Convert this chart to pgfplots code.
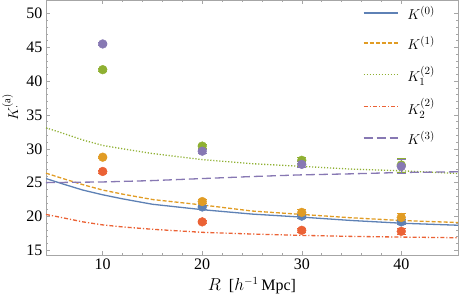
\documentclass[border=0pt]{standalone}
\usepackage{fontspec}
\setmainfont{Liberation Serif}
\usepackage{pgfplots}
\pgfplotsset{compat=1.18}
\definecolor{mblue}{HTML}{5E81B5}
\definecolor{morange}{HTML}{E19C24}
\definecolor{mgreen}{HTML}{8FB032}
\definecolor{mred}{HTML}{EB6235}
\definecolor{mpurple}{HTML}{8778B3}
\begin{document}
\begin{tikzpicture}
\begin{axis}[
  scale only axis, width=412pt, height=255pt,
  xmin=4.3, xmax=45.7, ymin=14.3, ymax=52,
  xtick={10,20,30,40}, ytick={15,20,25,30,35,40,45,50},
  minor x tick num=4, minor y tick num=4,
  tick align=inside,
  major tick length=4pt, minor tick length=2pt,
  axis line style={gray!70}, every tick/.style={gray!70, line width=0.5pt},
  tick label style={font=\fontsize{16}{18}\selectfont, black},
  /pgf/number format/assume math mode=true,
  xlabel={$R$\ \ [$h^{-1}\,$Mpc]},
  xlabel style={font=\fontsize{16}{18}\selectfont, yshift=-1pt},
  ylabel={$K^{(\mathrm{a})}_{\cdot}$},
  ylabel style={font=\fontsize{15}{17}\selectfont, at={(ticklabel cs:0.58)}},
  legend style={at={(rel axis cs:1,1)}, anchor=north east, xshift=-18pt, yshift=-2pt,
    draw=none, fill=none, font=\fontsize{15}{17}\selectfont, row sep=11pt, cells={anchor=west},
    /tikz/every odd column/.append style={column sep=7pt}},
  clip=true,
]
\addlegendimage{mblue, legend image code/.code={\draw[mblue, line width=1.4pt] (0pt,0.5pt) -- (34pt,0.5pt);}}
\addlegendentry{$K^{(0)}$}
\addlegendimage{morange, legend image code/.code={\draw[morange, line width=1.4pt, dash pattern=on 4pt off 2pt] (0pt,0.5pt) -- (34pt,0.5pt);}}
\addlegendentry{$K^{(1)}$}
\addlegendimage{mgreen, legend image code/.code={\draw[mgreen, line width=1.4pt, dash pattern=on 1.2pt off 1.8pt] (0pt,0.5pt) -- (34pt,0.5pt);}}
\addlegendentry{$K^{(2)}_1$}
\addlegendimage{mred, legend image code/.code={\draw[mred, line width=1.4pt, dash pattern=on 4pt off 2pt on 1.2pt off 2pt] (0pt,0.5pt) -- (34pt,0.5pt);}}
\addlegendentry{$K^{(2)}_2$}
\addlegendimage{mpurple, legend image code/.code={\draw[mpurple, line width=1.4pt, dash pattern=on 9pt off 4pt] (0pt,0.5pt) -- (34pt,0.5pt);}}
\addlegendentry{$K^{(3)}$}
% theory curves
\addplot[mblue, line width=1.3pt, forget plot] coordinates {(4.3,25.6) (6,24.8) (8,23.9) (10,23.2) (12,22.6) (15,21.8) (20,21.0) (25,20.35) (30,19.9) (35,19.4) (40,19.0) (45.7,18.7)};
\addplot[morange, line width=1.3pt, dash pattern=on 4pt off 2pt, forget plot] coordinates {(4.3,26.4) (6,25.6) (8,24.7) (10,23.9) (12,23.3) (15,22.5) (20,21.7) (25,20.8) (30,20.3) (35,19.8) (40,19.4) (45.7,19.1)};
\addplot[mgreen, line width=1.3pt, dash pattern=on 1.2pt off 1.8pt, forget plot] coordinates {(4.3,33.1) (6,32.3) (8,31.3) (10,30.5) (12,30.0) (15,29.3) (20,28.4) (25,27.8) (30,27.4) (35,27.0) (40,26.75) (45.7,26.35)};
\addplot[mred, line width=1.3pt, dash pattern=on 4pt off 2pt on 1.2pt off 2pt, forget plot] coordinates {(4.3,20.3) (6,19.8) (8,19.2) (10,18.75) (12,18.45) (15,18.1) (20,17.65) (25,17.4) (30,17.2) (35,17.05) (40,16.95) (45.7,16.85)};
\addplot[mpurple, line width=1.3pt, dash pattern=on 9pt off 4pt, forget plot] coordinates {(4.3,25.0) (10,25.1) (15,25.3) (20,25.6) (25,25.9) (30,26.15) (35,26.3) (40,26.5) (45.7,26.6)};
% measurements
\addplot[only marks, mark=*, mark size=4.4pt, mblue, forget plot,
  error bars/.cd, y dir=both, y explicit, error bar style={line width=0.6pt}] coordinates {(20,21.4) +- (0,0.3) (30,20.05) +- (0,0.3) (40,19.2) +- (0,0.4)};
\addplot[only marks, mark=*, mark size=4.4pt, morange, forget plot,
  error bars/.cd, y dir=both, y explicit, error bar style={line width=0.6pt}] coordinates {(10,28.76) +- (0,0.2) (20,22.2) +- (0,0.3) (30,20.6) +- (0,0.4) (40,19.85) +- (0,0.7)};
\addplot[only marks, mark=*, mark size=4.4pt, mgreen, forget plot,
  error bars/.cd, y dir=both, y explicit, error bar style={line width=0.6pt}] coordinates {(10,41.7) +- (0,0.2) (20,30.4) +- (0,0.3) (30,28.3) +- (0,0.4) (40,27.6) +- (0,1.0)};
\addplot[only marks, mark=*, mark size=4.4pt, mred, forget plot,
  error bars/.cd, y dir=both, y explicit, error bar style={line width=0.6pt}] coordinates {(10,26.65) +- (0,0.2) (20,19.2) +- (0,0.2) (30,17.95) +- (0,0.3) (40,17.8) +- (0,0.4)};
\addplot[only marks, mark=*, mark size=4.4pt, mpurple, forget plot,
  error bars/.cd, y dir=both, y explicit, error bar style={line width=0.6pt}] coordinates {(10,45.5) +- (0,0.2) (20,29.65) +- (0,0.3) (30,27.7) +- (0,0.4) (40,27.4) +- (0,1.0)};
\end{axis}
\pgfresetboundingbox
\path (-46pt,-49pt) rectangle (414pt,255pt);
\end{tikzpicture}
\end{document}
